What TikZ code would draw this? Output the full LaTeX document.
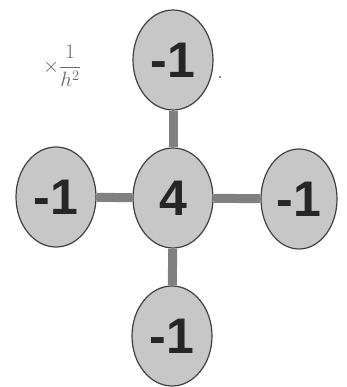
\documentclass[tikz,border=0pt]{standalone}
\usepackage{fontspec}
\setmainfont{Liberation Serif}
\newfontfamily\numfont{Liberation Sans}
\usetikzlibrary{shapes.geometric}
\begin{document}
\begin{tikzpicture}[x=1pt,y=1pt,
  cell/.style={ellipse, draw=black!75, line width=1.2pt, fill=black!22,
    minimum width=80pt, minimum height=100pt, inner sep=0pt,
    font=\numfont\bfseries\fontsize{50}{50}\selectfont, text=black!85},
  bar/.style={draw=black!50, line width=9pt}]
\useasboundingbox (0,0) rectangle (346,387);
\node[cell] (c) at (173,189) {4};
\node[cell] (t) at (173,327) {-1};
\node[cell] (l) at (56,190) {-1};
\node[cell, minimum width=76pt] (r) at (299,188) {-1};
\node[cell] (b) at (172,51) {-1};
\draw[bar] (c) -- (t);
\draw[bar] (c) -- (l);
\draw[bar] (c) -- (r);
\draw[bar] (c) -- (b);
\node[font=\fontsize{22}{24}\selectfont, text=black!60, inner sep=0pt] (f) at (62,321) {$\displaystyle\times\frac{1}{h^2}$};
\node[circle, fill=black!60, inner sep=0.8pt] (d) at (220,310) {};
\end{tikzpicture}
\end{document}
